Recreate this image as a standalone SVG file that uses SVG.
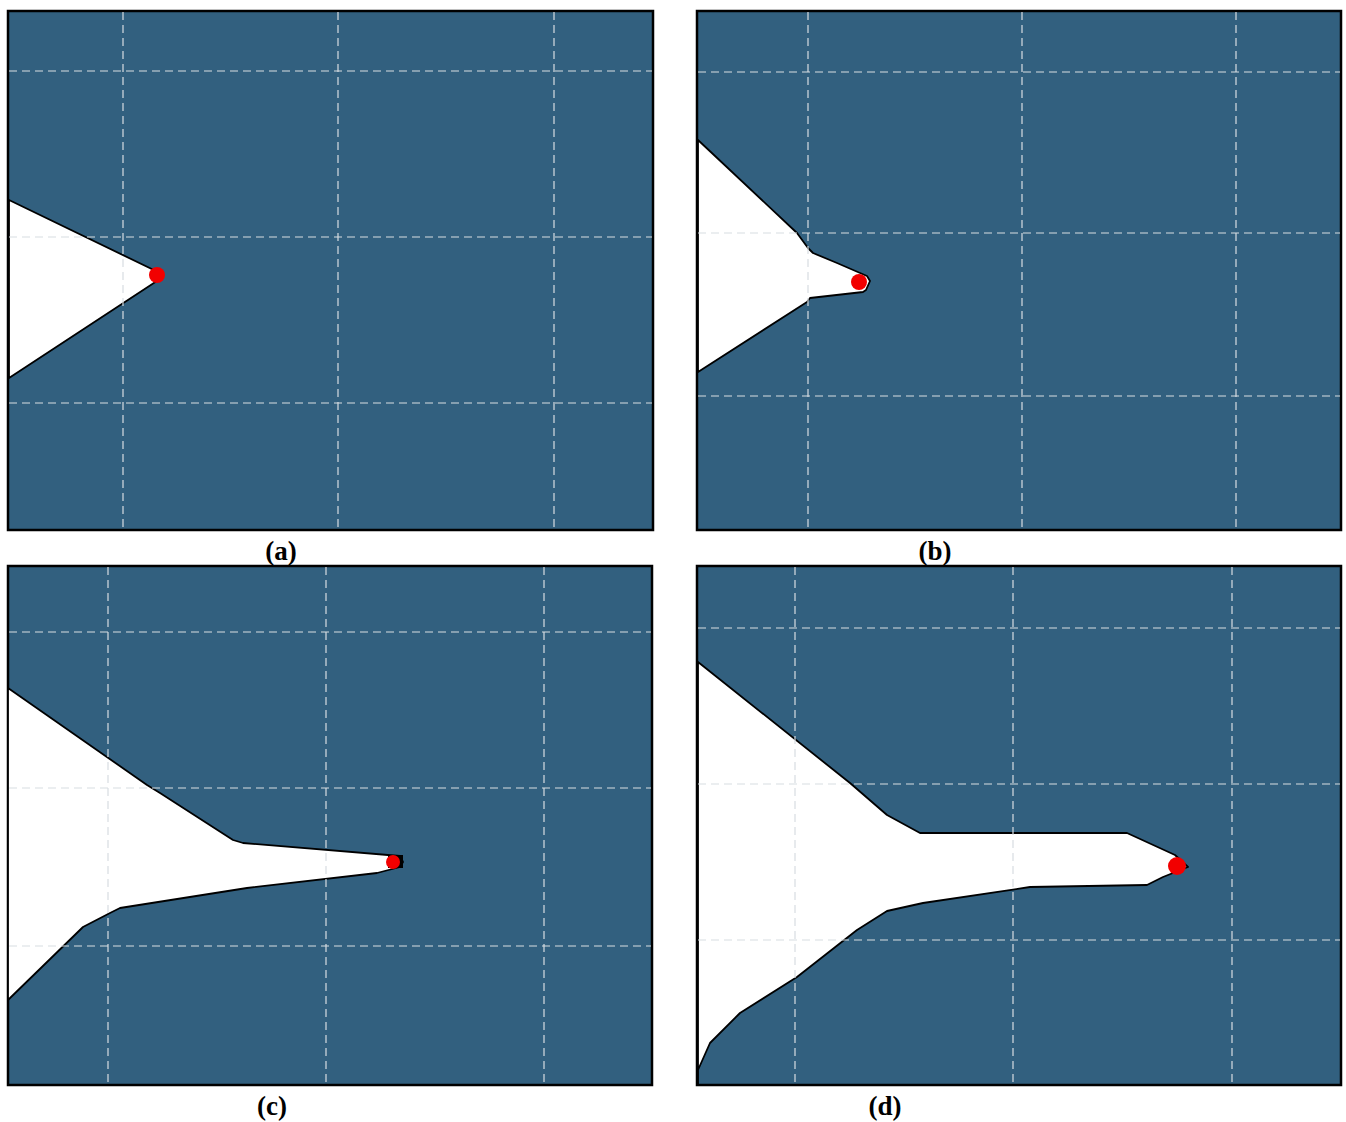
<svg xmlns="http://www.w3.org/2000/svg" width="1346" height="1122" viewBox="0 0 1346 1122">
<style>
.bg{fill:#32607f;stroke:#000;stroke-width:2.5}
.grid{stroke:#d8dde2;stroke-width:1.2;stroke-dasharray:8 5;fill:none}
.shape{fill:#fff;stroke:#000;stroke-width:1.8;stroke-linejoin:round}
.dot{fill:#f20000}
.lbl{font-family:"Liberation Serif",serif;font-weight:bold;font-size:27px;text-anchor:middle;fill:#000}
</style>
<rect width="1346" height="1122" fill="#fff"/>
<g id="panel-a">
<rect class="bg" x="8" y="11" width="645" height="519"/>
<path class="shape" d="M9,200 L160,273 L163,277 L9,378 Z"/>
<path class="grid" d="M123,12V529M338,12V529M554,12V529M9,71H652M9,237H652M9,403H652"/>
<circle class="dot" cx="157" cy="275" r="8"/>
<text class="lbl" x="281" y="560">(a)</text>
</g>
<g id="panel-b">
<rect class="bg" x="697" y="11" width="644" height="519"/>
<path class="shape" d="M698,140 L797,233 L808,248 L813,253 L837,263 L867,276 L870,281 L866,290 L863,292 L810,298 L807,302 L698,372 Z"/>
<path class="grid" d="M808,12V529M1022,12V529M1236,12V529M698,72H1340M698,233H1340M698,396H1340"/>
<circle class="dot" cx="859" cy="282" r="8"/>
<text class="lbl" x="935" y="560">(b)</text>
</g>
<g id="panel-c">
<rect class="bg" x="8" y="566" width="644" height="519"/>
<path class="shape" d="M8,688 L147,785 L160,793 L233,840 L243,843 L400,856 L403,862 L400,867 L377,873 L247,888 L120,908 L110,913 L83,927 L8,1000 Z"/>
<path class="grid" d="M108,567V1084M326,567V1084M544,567V1084M9,632H651M9,788H651M9,946H651"/>
<rect x="388" y="855" width="15" height="13" fill="#000"/>
<circle class="dot" cx="393" cy="862" r="7"/>
<text class="lbl" x="272" y="1115">(c)</text>
</g>
<g id="panel-d">
<rect class="bg" x="697" y="566" width="644" height="519"/>
<path class="shape" d="M698,662 L850,783 L887,815 L920,833 L1127,833 L1175,855 L1188,867 L1163,877 L1147,885 L1030,887 L923,903 L887,911 L857,930 L797,977 L740,1013 L710,1043 L698,1070 L698,1084 Z"/>
<path class="grid" d="M795,567V1084M1013,567V1084M1232,567V1084M698,628H1340M698,784H1340M698,940H1340"/>
<circle class="dot" cx="1177" cy="866" r="9"/>
<text class="lbl" x="885" y="1115">(d)</text>
</g>
</svg>
